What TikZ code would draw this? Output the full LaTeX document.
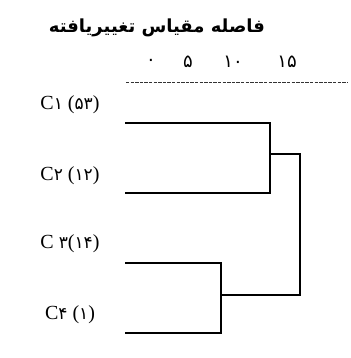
\documentclass[tikz,border=0pt]{standalone}
\usepackage{fontspec}
\setmainfont{Liberation Serif}
\newfontfamily\fa[Script=Arabic]{DejaVu Sans}
\TeXXeTstate=1
\newcommand{\fd}[1]{{\fa\fontsize{17}{20}\selectfont #1}}
\begin{document}
\begin{tikzpicture}[x=1pt,y=-1pt,
  tree/.style={line width=1.8pt,line cap=rect},
  lbl/.style={inner sep=0pt,font=\fontsize{20}{24}\selectfont},
  num/.style={inner sep=0pt,font=\fa\fontsize{18}{20}\selectfont},
  scaleline/.style={dashed,dash pattern=on 3.3pt off 1.3pt,line width=1pt,black!80}]
\useasboundingbox (0,0) rectangle (350,358);
% title
\node[inner sep=0pt,font=\fa\bfseries\fontsize{18}{22}\selectfont] (title) at (157,28) {\beginR فاصله مقیاس تغییریافته\endR};
% scale
\node[num] (s0) at (151,62) {۰};
\node[num] (s5) at (188,62) {۵};
\node[num] (s10) at (233,62) {۱۰};
\node[num] (s15) at (287,62) {۱۵};
\coordinate (dl) at (126,83);
\coordinate (dr) at (347,83);
\draw[scaleline] (dl) -- (dr);
% labels
\node[lbl] (c1) at (70,105) {C\fd{۱} (\fd{۵۳})};
\node[lbl] (c2) at (70,176) {C\fd{۲} (\fd{۱۲})};
\node[lbl] (c3) at (70,244) {C \fd{۳}(\fd{۱۴})};
\node[lbl] (c4) at (70,315) {C\fd{۴} (\fd{۱})};
% leaf ends
\coordinate (l1) at (126,123);
\coordinate (l2) at (126,193);
\coordinate (l3) at (126,263);
\coordinate (l4) at (126,333);
% merges
\coordinate (m12a) at (270,123);
\coordinate (m12b) at (270,193);
\coordinate (m12) at (270,154);
\coordinate (m34a) at (221,263);
\coordinate (m34b) at (221,333);
\coordinate (m34) at (221,295);
\coordinate (top) at (300,154);
\coordinate (bot) at (300,295);
\draw[tree] (l1) -- (m12a) -- (m12b) -- (l2);
\draw[tree] (l3) -- (m34a) -- (m34b) -- (l4);
\draw[tree] (m12) -- (top) -- (bot) -- (m34);
\end{tikzpicture}
\end{document}
